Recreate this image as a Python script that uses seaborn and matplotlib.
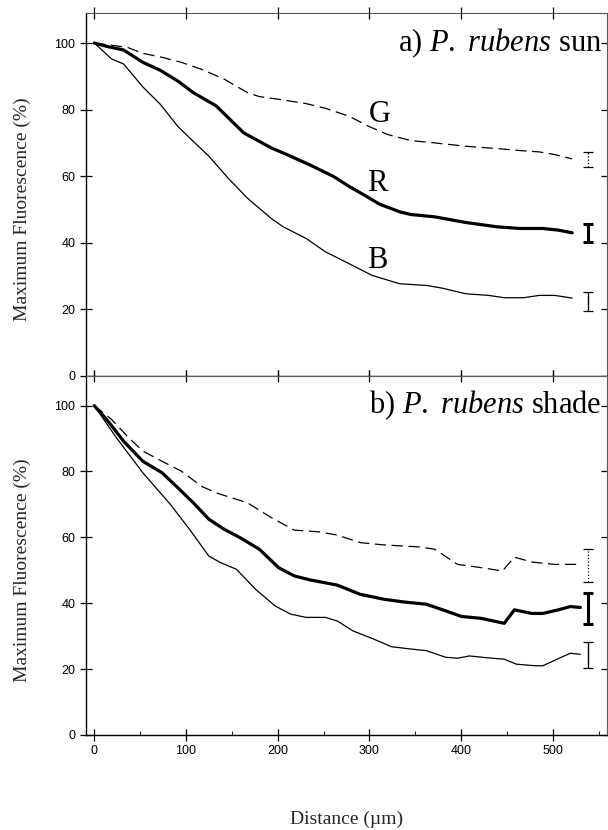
import numpy as np
import pandas as pd
import matplotlib
matplotlib.use("Agg")
import matplotlib.pyplot as plt
from matplotlib.ticker import MultipleLocator
import seaborn as sns

# Distances (um) and curves
sun_x_g = [0, 36, 53, 74, 95, 117, 142, 167, 180, 201, 231, 252, 278, 299, 320, 345,
           371, 405, 439, 464, 485, 502, 521]
sun_g = [100, 98.7, 96.9, 95.7, 94.2, 92.1, 89.1, 85.1, 83.9, 83.1, 81.8, 80.4, 78.0,
         75.0, 72.5, 70.7, 70.0, 69.0, 68.3, 67.7, 67.3, 66.5, 65.2]

sun_x_r = [0, 15, 32, 53, 72, 91, 108, 133, 163, 193, 210, 235, 261, 278, 294, 311,
           333, 345, 371, 405, 439, 464, 489, 506, 521]
sun_r = [100, 98.9, 97.9, 94.2, 91.8, 88.6, 85.1, 81.1, 73.0, 68.5, 66.5, 63.4, 59.9,
         56.9, 54.4, 51.6, 49.3, 48.5, 47.8, 46.1, 44.8, 44.3, 44.3, 43.8, 43.0]

sun_x_b = [0, 19, 32, 53, 72, 91, 104, 125, 146, 167, 193, 206, 231, 252, 278, 303,
           333, 362, 379, 405, 430, 447, 468, 485, 502, 521]
sun_b = [100, 95.2, 93.7, 86.8, 81.6, 75.0, 71.5, 66.0, 59.4, 53.4, 47.3, 44.8, 41.3,
         37.3, 33.7, 30.2, 27.7, 27.2, 26.4, 24.7, 24.2, 23.5, 23.5, 24.2, 24.2, 23.4]

shade_x_g = [0, 19, 36, 53, 74, 95, 117, 133, 150, 167, 193, 218, 244, 265, 290, 316,
             354, 371, 396, 422, 445, 458, 477, 502, 528]
shade_g = [100, 95.8, 90.7, 86.2, 83.1, 80.1, 75.5, 73.5, 72.0, 70.5, 66.0, 62.2, 61.7,
           60.7, 58.4, 57.7, 57.1, 56.4, 51.8, 50.8, 49.8, 54.0, 52.5, 51.8, 51.8]

shade_x_r = [0, 15, 32, 53, 74, 91, 108, 125, 142, 159, 180, 201, 218, 235, 265, 290,
             316, 337, 362, 383, 400, 422, 447, 458, 477, 489, 506, 519, 530]
shade_r = [100, 95.3, 89.2, 83.1, 79.6, 75.1, 70.5, 65.5, 62.4, 59.9, 56.4, 50.8, 48.3,
           47.1, 45.5, 42.7, 41.2, 40.4, 39.7, 37.7, 36.0, 35.4, 33.9, 38.0, 36.9, 36.9,
           38.0, 39.0, 38.7]

shade_x_b = [0, 23, 53, 83, 104, 125, 138, 155, 176, 197, 214, 231, 252, 265, 282, 303,
             324, 345, 362, 383, 396, 409, 426, 447, 460, 481, 489, 506, 519, 530]
shade_b = [100, 90.7, 79.6, 70.0, 62.4, 54.3, 52.3, 50.3, 44.2, 39.2, 36.7, 35.7, 35.7,
           34.6, 31.6, 29.3, 26.8, 26.1, 25.6, 23.6, 23.3, 24.0, 23.5, 23.0, 21.5, 21.0,
           21.0, 23.2, 24.8, 24.5]

# error bars (G, R, B) at the right end
err_x = 538
sun_err_mid = [65.1, 42.9, 22.4]
sun_err_half = [2.2, 2.6, 2.8]
shade_err_mid = [51.5, 38.3, 24.2]
shade_err_half = [5.0, 4.7, 4.0]

panel_titles = [r"a) $\mathit{P.}$ $\mathit{rubens}$ sun", r"b) $\mathit{P.}$ $\mathit{rubens}$ shade"]
curve_labels = ["G", "R", "B"]
label_pos = [(311, 78.5), (309, 57.9), (309, 34.7)]

sns.set_style("ticks")
plt.rcParams["font.family"] = ["Liberation Sans", "DejaVu Sans"]
plt.rcParams["mathtext.fontset"] = "custom"
plt.rcParams["mathtext.rm"] = "Liberation Serif"
plt.rcParams["mathtext.it"] = "Liberation Serif:italic"
serif = ["Liberation Serif", "DejaVu Serif"]

fig = plt.figure(figsize=(6.08, 8.30), dpi=100)
ax_top = fig.add_axes([0.1414, 0.547, 0.857, 0.4373])
ax_bot = fig.add_axes([0.1414, 0.1145, 0.857, 0.4325])

styles = {
    "G": dict(linewidth=0.9, linestyle=(0, (9, 4.5))),
    "R": dict(linewidth=2.3, linestyle="-"),
    "B": dict(linewidth=0.9, linestyle="-"),
}
err_styles = {
    "G": dict(lw=0.9, ls=":"),
    "R": dict(lw=2.2, ls="-"),
    "B": dict(lw=1.0, ls="-"),
}

panels = [
    (ax_top, [(sun_x_g, sun_g), (sun_x_r, sun_r), (sun_x_b, sun_b)], sun_err_mid, sun_err_half),
    (ax_bot, [(shade_x_g, shade_g), (shade_x_r, shade_r), (shade_x_b, shade_b)],
     shade_err_mid, shade_err_half),
]

for i, (ax, curves, mids, halfs) in enumerate(panels):
    for name, (xs, ys) in zip(curve_labels, curves):
        df = pd.DataFrame({"x": xs, "y": ys})
        sns.lineplot(data=df, x="x", y="y", ax=ax, color="black", sort=False,
                     estimator=None, **styles[name])
    for name, m, h in zip(curve_labels, mids, halfs):
        eb = ax.errorbar([err_x], [m], yerr=[h], color="black", capsize=3.5,
                         capthick=err_styles[name]["lw"] if name == "R" else 0.9,
                         elinewidth=err_styles[name]["lw"], fmt="none")
        eb[2][0].set_linestyle(err_styles[name]["ls"])

    ax.set_xlim(-9, 559)
    ax.set_ylim(0, 109)
    ax.xaxis.set_major_locator(MultipleLocator(100))
    ax.yaxis.set_major_locator(MultipleLocator(20))
    ax.tick_params(which="major", direction="inout", length=8, width=0.9,
                   top=True, right=True, labelsize=9, colors="black")
    for s in ["left", "bottom"]:
        ax.spines[s].set_color("black")
        ax.spines[s].set_linewidth(1.0)
    for s in ["top", "right"]:
        ax.spines[s].set_color("0.35")
        ax.spines[s].set_linewidth(0.8)
    ax.set_ylabel("Maximum Fluorescence (%)", family=serif, fontsize=14)
    ax.yaxis.set_label_coords(-0.105, 0.46)
    ax.text(0.99, 100, panel_titles[i], transform=ax.get_yaxis_transform(),
            ha="right", va="center", fontsize=22, family=serif, color="black")

for name, (lx, ly) in zip(curve_labels, label_pos):
    ax_top.text(lx, ly, name, ha="center", va="center", fontsize=22, family=serif,
                color="black")

ax_top.set_xlabel("")
ax_top.tick_params(labelbottom=False)
ax_bot.xaxis.set_minor_locator(MultipleLocator(50))
ax_bot.tick_params(which="minor", direction="in", length=3, width=0.8,
                   top=False, right=False, left=False)
ax_bot.set_xlabel("Distance (\u00b5m)", family=serif, fontsize=14)
ax_bot.xaxis.set_label_coords(0.5, -0.21)

fig.savefig("out.png", dpi=100)
